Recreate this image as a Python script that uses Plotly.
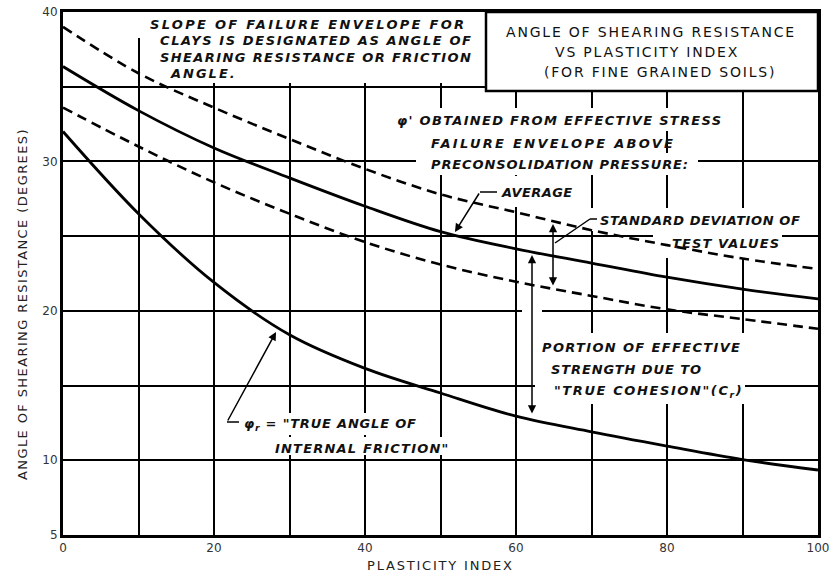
import plotly.graph_objects as go

# ---------------- data ----------------
plasticity_index = [0, 10, 20, 30, 40, 50, 60, 70, 80, 90, 100]
phi_upper_sd = [39.0, 35.9, 33.6, 31.5, 29.5, 27.8, 26.6, 25.4, 24.4, 23.5, 22.8]
phi_average = [36.35, 33.4, 30.9, 28.9, 27.0, 25.3, 24.15, 23.2, 22.25, 21.45, 20.8]
phi_lower_sd = [33.6, 31.0, 28.6, 26.5, 24.6, 23.1, 21.95, 21.0, 20.1, 19.45, 18.8]
phi_r_true = [32.0, 26.5, 21.9, 18.4, 16.15, 14.5, 12.95, 11.9, 10.95, 10.05, 9.35]

x_tickvals = [0, 10, 20, 30, 40, 50, 60, 70, 80, 90, 100]
x_ticktext = ["0", "", "20", "", "40", "", "60", "", "80", "", "100"]
y_tickvals = [5, 10, 15, 20, 25, 30, 35, 40]
y_ticktext = ["5", "10", "", "20", "", "30", "", "40"]

# ---------------- layout helpers (pixel -> data) ----------------
W, H = 831, 573
PL, PR, PT, PB = 63, 818, 12, 535
X0, X1, Y0, Y1 = 0, 100, 5, 40


def dx(px):
    return X0 + (px - PL) / (PR - PL) * (X1 - X0)


def dy(py):
    return Y1 - (py - PT) / (PB - PT) * (Y1 - Y0)


HAND = dict(family="DejaVu Sans", size=13, color="#111", weight="bold", style="italic")


def sp(text, ls):
    return '<span style="letter-spacing:%spx">%s</span>' % (ls, text)


fig = go.Figure()

common = dict(x=plasticity_index, mode="lines", hoverinfo="skip", showlegend=False)
fig.add_trace(go.Scatter(y=phi_upper_sd, line=dict(color="black", width=2.6, dash="10px,6px", shape="spline", smoothing=1.0), **common))
fig.add_trace(go.Scatter(y=phi_average, line=dict(color="black", width=2.8, shape="spline", smoothing=1.0), **common))
fig.add_trace(go.Scatter(y=phi_lower_sd, line=dict(color="black", width=2.6, dash="10px,6px", shape="spline", smoothing=1.0), **common))
fig.add_trace(go.Scatter(y=phi_r_true, line=dict(color="black", width=2.8, shape="spline", smoothing=1.0), **common))

shapes = []

# white masks that hide grid lines behind the lettering (between grid and curves)
masks = [
    (140, 486, 12, 83), (128, 142, 12, 38),
    (390, 722, 108, 131), (424, 652, 131, 153), (416, 698, 153, 175),
    (478, 572, 176, 207),
    (588, 800, 208, 231), (653, 782, 231, 258),
    (522, 542, 305, 318),
    (535, 745, 333, 404),
    (238, 422, 413, 435), (268, 450, 437, 455),
]
for x0, x1, y0, y1 in masks:
    shapes.append(dict(type="rect", xref="x", yref="y", x0=dx(x0), x1=dx(x1), y0=dy(y1), y1=dy(y0),
                       fillcolor="white", line=dict(width=0), layer="between"))

# title box
shapes.append(dict(type="rect", xref="x", yref="y", x0=dx(486), x1=dx(818), y0=dy(91), y1=dy(12),
                   fillcolor="white", line=dict(color="black", width=2.5), layer="above"))


def seg(p0, p1, w=1.5):
    shapes.append(dict(type="line", xref="x", yref="y", x0=dx(p0[0]), y0=dy(p0[1]), x1=dx(p1[0]), y1=dy(p1[1]),
                       line=dict(color="black", width=w), layer="above"))

seg((480, 192), (497, 192))          # AVERAGE
seg((590, 219), (597, 219))          # STANDARD DEVIATION
seg((590, 219), (555, 243))
seg((227, 422), (239, 422))          # phi_r

fig.update_layout(shapes=shapes)

annotations = []


def arrow(tip, tail, both=False):
    annotations.append(dict(x=dx(tip[0]), y=dy(tip[1]), ax=dx(tail[0]), ay=dy(tail[1]), xref="x", yref="y",
                            axref="x", ayref="y", text="", showarrow=True, arrowhead=2, arrowsize=1.1,
                            arrowwidth=1.5, arrowcolor="black", arrowside="end+start" if both else "end",
                            startarrowhead=2, startarrowsize=1.1))

arrow((455, 232), (480, 192))              # AVERAGE
arrow((553, 224), (553, 287), both=True)    # standard deviation
arrow((532, 255), (532, 415), both=True)    # true cohesion portion
arrow((276, 332), (227, 422))               # phi_r


def txt(text, px, py, font, anchor="left"):
    annotations.append(dict(x=dx(px), y=dy(py), xref="x", yref="y", text=text, showarrow=False,
                            xanchor=anchor, yanchor="middle", font=font))

txt(sp("SLOPE OF FAILURE ENVELOPE FOR", 2.3), 148, 24, HAND)
txt(sp("CLAYS IS DESIGNATED AS ANGLE OF", 1.6), 158, 40, HAND)
txt(sp("SHEARING RESISTANCE OR FRICTION", 1.4), 158, 57, HAND)
txt(sp("ANGLE.", 2.0), 168, 73, HAND)

TF = dict(family="DejaVu Sans", size=14, color="#111")
txt(sp("ANGLE OF SHEARING RESISTANCE", 1.8), 651, 32, TF, "center")
txt(sp("VS PLASTICITY INDEX", 1.8), 647, 52, TF, "center")
txt(sp("(FOR FINE GRAINED SOILS)", 1.8), 660, 72, TF, "center")

txt(sp("φ' OBTAINED FROM EFFECTIVE STRESS", 1.3), 395, 120, HAND)
txt(sp("FAILURE ENVELOPE ABOVE", 2.3), 429, 143, HAND)
txt(sp("PRECONSOLIDATION PRESSURE:", 0.9), 429, 164, HAND)
txt(sp("AVERAGE", 0.4), 499, 192, HAND)
txt(sp("STANDARD DEVIATION OF", 0.6), 598, 220, HAND)
txt(sp("TEST VALUES", 1.1), 670, 243, HAND)
txt(sp("PORTION OF EFFECTIVE", 1.35), 540, 347, HAND)
txt(sp("STRENGTH DUE TO", 0.9), 549, 369, HAND)
txt(sp('"TRUE COHESION"(C<sub>r</sub>)', 1.6), 552, 391, HAND)
txt(sp('φ<sub>r</sub> = "TRUE ANGLE OF', 0.8), 242, 424, HAND)
txt(sp('INTERNAL FRICTION"', 1.2), 273, 448, HAND)

# axis titles
annotations.append(dict(x=0, y=dy(304), xref="paper", yref="y", xanchor="center", yanchor="middle",
                        xshift=-(PL - 22), text=sp("ANGLE OF SHEARING RESISTANCE (DEGREES)", 1.4),
                        textangle=-90, showarrow=False, font=dict(family="DejaVu Sans", size=13, color="#222")))
annotations.append(dict(x=dx(440), y=0, xref="x", yref="paper", xanchor="center", yanchor="middle",
                        yshift=-(565 - PB), text=sp("PLASTICITY INDEX", 1.8), showarrow=False,
                        font=dict(family="DejaVu Sans", size=13, color="#222")))

fig.update_layout(annotations=annotations)

axis_common = dict(showgrid=True, gridcolor="black", gridwidth=1.5, zeroline=False, showline=True,
                   linecolor="black", linewidth=3, mirror=True, ticks="",
                   tickfont=dict(family="DejaVu Sans", size=12, color="#333"))
fig.update_xaxes(range=[X0, X1], tickmode="array", tickvals=x_tickvals, ticktext=x_ticktext, **axis_common)
fig.update_yaxes(range=[Y0, Y1], tickmode="array", tickvals=y_tickvals, ticktext=y_ticktext, **axis_common)

fig.update_layout(width=W, height=H, margin=dict(l=PL, r=W - PR, t=PT, b=H - PB, autoexpand=False),
                  plot_bgcolor="white", paper_bgcolor="white", showlegend=False)

fig.write_html("out.html", config={"displayModeBar": False},
               post_script="document.body.style.margin='0';document.body.style.overflow='hidden';")
